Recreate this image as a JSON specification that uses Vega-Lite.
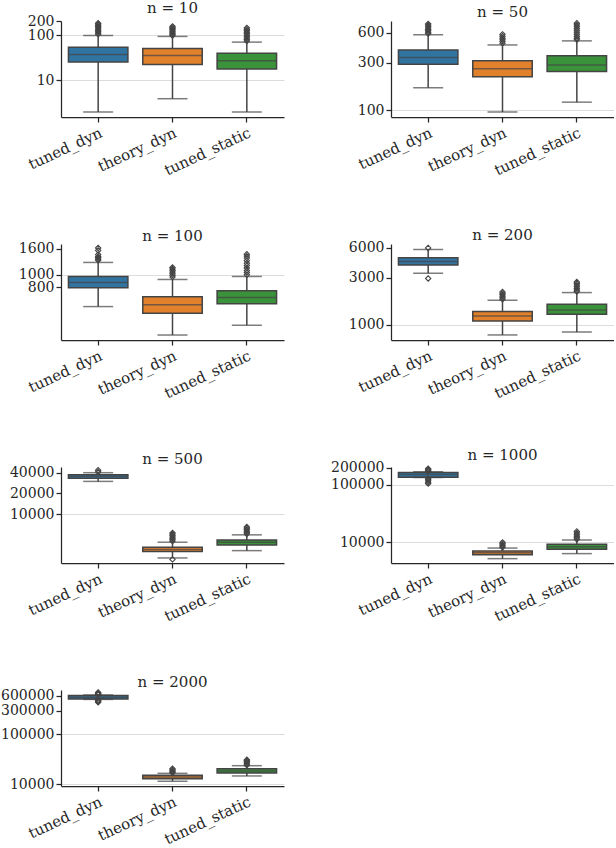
{
  "$schema": "https://vega.github.io/schema/vega-lite/v6.json",
  "padding": {"left": 0, "top": 1, "right": 0, "bottom": 0},
  "bounds": "flush",
  "spacing": 223,
  "background": "white",
  "datasets": {
    "stats": [
      {"n": 10, "method": "tuned_dyn", "lower": 2.0, "q1": 25.3, "median": 37.5, "q3": 54, "upper": 98},
      {"n": 10, "method": "theory_dyn", "lower": 3.93, "q1": 22.5, "median": 35.6, "q3": 50.8, "upper": 93.5},
      {"n": 10, "method": "tuned_static", "lower": 2.0, "q1": 17.8, "median": 27.1, "q3": 39.5, "upper": 70},
      {"n": 50, "method": "tuned_dyn", "lower": 168, "q1": 290, "median": 339, "q3": 403, "upper": 573},
      {"n": 50, "method": "theory_dyn", "lower": 95.5, "q1": 216, "median": 261, "q3": 314, "upper": 453},
      {"n": 50, "method": "tuned_static", "lower": 120, "q1": 245, "median": 284, "q3": 353, "upper": 498},
      {"n": 100, "method": "tuned_dyn", "lower": 564, "q1": 791, "median": 870, "q3": 970, "upper": 1249},
      {"n": 100, "method": "theory_dyn", "lower": 338, "q1": 501, "median": 582, "q3": 672, "upper": 919},
      {"n": 100, "method": "tuned_static", "lower": 403, "q1": 593, "median": 664, "q3": 750, "upper": 970},
      {"n": 200, "method": "tuned_dyn", "lower": 3330, "q1": 4040, "median": 4390, "q3": 4790, "upper": 5800},
      {"n": 200, "method": "theory_dyn", "lower": 793, "q1": 1098, "median": 1233, "q3": 1365, "upper": 1778},
      {"n": 200, "method": "tuned_static", "lower": 849, "q1": 1284, "median": 1420, "q3": 1622, "upper": 2125},
      {"n": 500, "method": "tuned_dyn", "lower": 29900, "q1": 33100, "median": 35500, "q3": 37400, "upper": 40000},
      {"n": 500, "method": "theory_dyn", "lower": 2310, "q1": 2860, "median": 3060, "q3": 3300, "upper": 3910},
      {"n": 500, "method": "tuned_static", "lower": 2950, "q1": 3560, "median": 3890, "q3": 4220, "upper": 5000},
      {"n": 1000, "method": "tuned_dyn", "lower": 134000, "q1": 136000, "median": 152000, "q3": 164000, "upper": 169000},
      {"n": 1000, "method": "theory_dyn", "lower": 5190, "q1": 6100, "median": 6560, "q3": 7050, "upper": 7940},
      {"n": 1000, "method": "tuned_static", "lower": 6350, "q1": 7550, "median": 8330, "q3": 9230, "upper": 10970},
      {"n": 2000, "method": "tuned_dyn", "lower": 502000, "q1": 512000, "median": 556000, "q3": 604000, "upper": 615000},
      {"n": 2000, "method": "theory_dyn", "lower": 11500, "q1": 12900, "median": 14000, "q3": 15100, "upper": 16600},
      {"n": 2000, "method": "tuned_static", "lower": 14700, "q1": 16800, "median": 18500, "q3": 20500, "upper": 23600}
    ],
    "outliers": [
      {"n": 10, "method": "tuned_dyn", "value": 105}, {"n": 10, "method": "tuned_dyn", "value": 112}, {"n": 10, "method": "tuned_dyn", "value": 120}, {"n": 10, "method": "tuned_dyn", "value": 128}, {"n": 10, "method": "tuned_dyn", "value": 136}, {"n": 10, "method": "tuned_dyn", "value": 145}, {"n": 10, "method": "tuned_dyn", "value": 155}, {"n": 10, "method": "tuned_dyn", "value": 165}, {"n": 10, "method": "tuned_dyn", "value": 175}, {"n": 10, "method": "tuned_dyn", "value": 183},
      {"n": 10, "method": "theory_dyn", "value": 98}, {"n": 10, "method": "theory_dyn", "value": 104}, {"n": 10, "method": "theory_dyn", "value": 110}, {"n": 10, "method": "theory_dyn", "value": 117}, {"n": 10, "method": "theory_dyn", "value": 124}, {"n": 10, "method": "theory_dyn", "value": 132}, {"n": 10, "method": "theory_dyn", "value": 140}, {"n": 10, "method": "theory_dyn", "value": 148}, {"n": 10, "method": "theory_dyn", "value": 156},
      {"n": 10, "method": "tuned_static", "value": 74}, {"n": 10, "method": "tuned_static", "value": 80}, {"n": 10, "method": "tuned_static", "value": 86}, {"n": 10, "method": "tuned_static", "value": 93}, {"n": 10, "method": "tuned_static", "value": 100}, {"n": 10, "method": "tuned_static", "value": 108}, {"n": 10, "method": "tuned_static", "value": 116}, {"n": 10, "method": "tuned_static", "value": 125}, {"n": 10, "method": "tuned_static", "value": 135}, {"n": 10, "method": "tuned_static", "value": 145},
      {"n": 50, "method": "tuned_dyn", "value": 590}, {"n": 50, "method": "tuned_dyn", "value": 610}, {"n": 50, "method": "tuned_dyn", "value": 630}, {"n": 50, "method": "tuned_dyn", "value": 650}, {"n": 50, "method": "tuned_dyn", "value": 670}, {"n": 50, "method": "tuned_dyn", "value": 695}, {"n": 50, "method": "tuned_dyn", "value": 720}, {"n": 50, "method": "tuned_dyn", "value": 740},
      {"n": 50, "method": "theory_dyn", "value": 470}, {"n": 50, "method": "theory_dyn", "value": 490}, {"n": 50, "method": "theory_dyn", "value": 510}, {"n": 50, "method": "theory_dyn", "value": 530}, {"n": 50, "method": "theory_dyn", "value": 555}, {"n": 50, "method": "theory_dyn", "value": 580},
      {"n": 50, "method": "tuned_static", "value": 510}, {"n": 50, "method": "tuned_static", "value": 530}, {"n": 50, "method": "tuned_static", "value": 550}, {"n": 50, "method": "tuned_static", "value": 575}, {"n": 50, "method": "tuned_static", "value": 600}, {"n": 50, "method": "tuned_static", "value": 630}, {"n": 50, "method": "tuned_static", "value": 660}, {"n": 50, "method": "tuned_static", "value": 690}, {"n": 50, "method": "tuned_static", "value": 720}, {"n": 50, "method": "tuned_static", "value": 750},
      {"n": 100, "method": "tuned_dyn", "value": 1300}, {"n": 100, "method": "tuned_dyn", "value": 1330}, {"n": 100, "method": "tuned_dyn", "value": 1360}, {"n": 100, "method": "tuned_dyn", "value": 1390}, {"n": 100, "method": "tuned_dyn", "value": 1440}, {"n": 100, "method": "tuned_dyn", "value": 1550}, {"n": 100, "method": "tuned_dyn", "value": 1620},
      {"n": 100, "method": "theory_dyn", "value": 960}, {"n": 100, "method": "theory_dyn", "value": 990}, {"n": 100, "method": "theory_dyn", "value": 1020}, {"n": 100, "method": "theory_dyn", "value": 1050}, {"n": 100, "method": "theory_dyn", "value": 1080}, {"n": 100, "method": "theory_dyn", "value": 1110}, {"n": 100, "method": "theory_dyn", "value": 1140},
      {"n": 100, "method": "tuned_static", "value": 1000}, {"n": 100, "method": "tuned_static", "value": 1040}, {"n": 100, "method": "tuned_static", "value": 1080}, {"n": 100, "method": "tuned_static", "value": 1130}, {"n": 100, "method": "tuned_static", "value": 1180}, {"n": 100, "method": "tuned_static", "value": 1230}, {"n": 100, "method": "tuned_static", "value": 1290}, {"n": 100, "method": "tuned_static", "value": 1350}, {"n": 100, "method": "tuned_static", "value": 1400}, {"n": 100, "method": "tuned_static", "value": 1450},
      {"n": 200, "method": "tuned_dyn", "value": 6000}, {"n": 200, "method": "tuned_dyn", "value": 2950},
      {"n": 200, "method": "theory_dyn", "value": 1820}, {"n": 200, "method": "theory_dyn", "value": 1880}, {"n": 200, "method": "theory_dyn", "value": 1950}, {"n": 200, "method": "theory_dyn", "value": 2020}, {"n": 200, "method": "theory_dyn", "value": 2090}, {"n": 200, "method": "theory_dyn", "value": 2160},
      {"n": 200, "method": "tuned_static", "value": 2180}, {"n": 200, "method": "tuned_static", "value": 2260}, {"n": 200, "method": "tuned_static", "value": 2340}, {"n": 200, "method": "tuned_static", "value": 2430}, {"n": 200, "method": "tuned_static", "value": 2530}, {"n": 200, "method": "tuned_static", "value": 2630}, {"n": 200, "method": "tuned_static", "value": 2720},
      {"n": 500, "method": "tuned_dyn", "value": 41000}, {"n": 500, "method": "tuned_dyn", "value": 43500},
      {"n": 500, "method": "theory_dyn", "value": 4050}, {"n": 500, "method": "theory_dyn", "value": 4250}, {"n": 500, "method": "theory_dyn", "value": 4450}, {"n": 500, "method": "theory_dyn", "value": 4650}, {"n": 500, "method": "theory_dyn", "value": 4900}, {"n": 500, "method": "theory_dyn", "value": 5150}, {"n": 500, "method": "theory_dyn", "value": 5350}, {"n": 500, "method": "theory_dyn", "value": 2200},
      {"n": 500, "method": "tuned_static", "value": 5150}, {"n": 500, "method": "tuned_static", "value": 5400}, {"n": 500, "method": "tuned_static", "value": 5650}, {"n": 500, "method": "tuned_static", "value": 5950}, {"n": 500, "method": "tuned_static", "value": 6250}, {"n": 500, "method": "tuned_static", "value": 6500},
      {"n": 1000, "method": "tuned_dyn", "value": 172000}, {"n": 1000, "method": "tuned_dyn", "value": 178000}, {"n": 1000, "method": "tuned_dyn", "value": 185000}, {"n": 1000, "method": "tuned_dyn", "value": 192000}, {"n": 1000, "method": "tuned_dyn", "value": 130000}, {"n": 1000, "method": "tuned_dyn", "value": 124000}, {"n": 1000, "method": "tuned_dyn", "value": 118000}, {"n": 1000, "method": "tuned_dyn", "value": 111000}, {"n": 1000, "method": "tuned_dyn", "value": 105000},
      {"n": 1000, "method": "theory_dyn", "value": 8200}, {"n": 1000, "method": "theory_dyn", "value": 8600}, {"n": 1000, "method": "theory_dyn", "value": 9000}, {"n": 1000, "method": "theory_dyn", "value": 9500}, {"n": 1000, "method": "theory_dyn", "value": 10000},
      {"n": 1000, "method": "tuned_static", "value": 11300}, {"n": 1000, "method": "tuned_static", "value": 12000}, {"n": 1000, "method": "tuned_static", "value": 12800}, {"n": 1000, "method": "tuned_static", "value": 13600}, {"n": 1000, "method": "tuned_static", "value": 14500}, {"n": 1000, "method": "tuned_static", "value": 15500},
      {"n": 2000, "method": "tuned_dyn", "value": 630000}, {"n": 2000, "method": "tuned_dyn", "value": 650000}, {"n": 2000, "method": "tuned_dyn", "value": 670000}, {"n": 2000, "method": "tuned_dyn", "value": 690000}, {"n": 2000, "method": "tuned_dyn", "value": 490000}, {"n": 2000, "method": "tuned_dyn", "value": 470000}, {"n": 2000, "method": "tuned_dyn", "value": 450000}, {"n": 2000, "method": "tuned_dyn", "value": 440000},
      {"n": 2000, "method": "theory_dyn", "value": 17100}, {"n": 2000, "method": "theory_dyn", "value": 17800}, {"n": 2000, "method": "theory_dyn", "value": 18600}, {"n": 2000, "method": "theory_dyn", "value": 19500}, {"n": 2000, "method": "theory_dyn", "value": 20500},
      {"n": 2000, "method": "tuned_static", "value": 24200}, {"n": 2000, "method": "tuned_static", "value": 25500}, {"n": 2000, "method": "tuned_static", "value": 27000}, {"n": 2000, "method": "tuned_static", "value": 28500}, {"n": 2000, "method": "tuned_static", "value": 30000}, {"n": 2000, "method": "tuned_static", "value": 31000}
    ]
  },
  "config": {
    "view": {"stroke": null},
    "font": "DejaVu Serif",
    "axis": {"labelFont": "DejaVu Serif", "labelFontSize": 14, "labelColor": "#262626", "domainColor": "#262626", "tickColor": "#262626", "domainWidth": 1.25, "tickWidth": 1.25, "tickSize": 5, "labelPadding": 2, "gridColor": "#dcdcdc", "gridWidth": 1, "labelOverlap": false},
    "axisX": {"grid": false, "labelAngle": -25, "labelFontSize": 15, "labelPadding": 3},
    "title": {"font": "DejaVu Serif", "fontSize": 15, "fontWeight": "normal", "color": "#262626", "offset": -2, "anchor": "middle"}
  },
  "vconcat": [
    {"bounds": "flush", "spacing": 107, "hconcat": [
      {"title": "n = 10", "width": 223, "height": 96,
       "encoding": {"x": {"field": "method", "type": "nominal", "title": null, "scale": {"domain": ["tuned_dyn", "theory_dyn", "tuned_static"], "paddingInner": 0, "paddingOuter": 0}}},
       "layer": [
        {"data": {"name": "stats"}, "transform": [{"filter": "datum.n == 10"}], "mark": {"type": "rule", "color": "#444444", "strokeWidth": 1.5},
         "encoding": {"y": {"field": "lower", "type": "quantitative", "title": null, "scale": {"type": "log", "domain": [1.55, 205], "nice": false}, "axis": {"values": [10, 100, 200], "format": "d", "gridOpacity": {"condition": {"test": "indexof([10,100,1000,10000,100000,1000000], datum.value) >= 0", "value": 1}, "value": 0}}}, "y2": {"field": "upper"}}},
        {"data": {"name": "stats"}, "transform": [{"filter": "datum.n == 10"}], "mark": {"type": "bar", "width": {"band": 0.8}, "stroke": "#444444", "strokeWidth": 1.5},
         "encoding": {"y": {"field": "q1", "type": "quantitative", "title": null}, "y2": {"field": "q3"}, "color": {"field": "method", "type": "nominal", "legend": null, "scale": {"domain": ["tuned_dyn", "theory_dyn", "tuned_static"], "range": ["#3274a1", "#e1812c", "#3a923a"]}}}},
        {"data": {"name": "stats"}, "transform": [{"filter": "datum.n == 10"}], "mark": {"type": "tick", "size": 59, "thickness": 1.5, "color": "#444444"}, "encoding": {"y": {"field": "median", "type": "quantitative", "title": null}}},
        {"data": {"name": "stats"}, "transform": [{"filter": "datum.n == 10"}], "mark": {"type": "tick", "size": 30, "thickness": 1.5, "color": "#444444"}, "encoding": {"y": {"field": "lower", "type": "quantitative", "title": null}}},
        {"data": {"name": "stats"}, "transform": [{"filter": "datum.n == 10"}], "mark": {"type": "tick", "size": 30, "thickness": 1.5, "color": "#444444"}, "encoding": {"y": {"field": "upper", "type": "quantitative", "title": null}}},
        {"data": {"name": "outliers"}, "transform": [{"filter": "datum.n == 10"}], "mark": {"type": "point", "shape": "diamond", "filled": false, "size": 28, "strokeWidth": 1.1, "color": "#444444", "opacity": 1}, "encoding": {"y": {"field": "value", "type": "quantitative", "title": null}}}
       ]},
      {"title": "n = 50", "width": 223, "height": 96,
       "encoding": {"x": {"field": "method", "type": "nominal", "title": null, "scale": {"domain": ["tuned_dyn", "theory_dyn", "tuned_static"], "paddingInner": 0, "paddingOuter": 0}}},
       "layer": [
        {"data": {"name": "stats"}, "transform": [{"filter": "datum.n == 50"}], "mark": {"type": "rule", "color": "#444444", "strokeWidth": 1.5},
         "encoding": {"y": {"field": "lower", "type": "quantitative", "title": null, "scale": {"type": "log", "domain": [85, 790], "nice": false}, "axis": {"values": [100, 300, 600], "format": "d", "gridOpacity": {"condition": {"test": "indexof([10,100,1000,10000,100000,1000000], datum.value) >= 0", "value": 1}, "value": 0}}}, "y2": {"field": "upper"}}},
        {"data": {"name": "stats"}, "transform": [{"filter": "datum.n == 50"}], "mark": {"type": "bar", "width": {"band": 0.8}, "stroke": "#444444", "strokeWidth": 1.5},
         "encoding": {"y": {"field": "q1", "type": "quantitative", "title": null}, "y2": {"field": "q3"}, "color": {"field": "method", "type": "nominal", "legend": null, "scale": {"domain": ["tuned_dyn", "theory_dyn", "tuned_static"], "range": ["#3274a1", "#e1812c", "#3a923a"]}}}},
        {"data": {"name": "stats"}, "transform": [{"filter": "datum.n == 50"}], "mark": {"type": "tick", "size": 59, "thickness": 1.5, "color": "#444444"}, "encoding": {"y": {"field": "median", "type": "quantitative", "title": null}}},
        {"data": {"name": "stats"}, "transform": [{"filter": "datum.n == 50"}], "mark": {"type": "tick", "size": 30, "thickness": 1.5, "color": "#444444"}, "encoding": {"y": {"field": "lower", "type": "quantitative", "title": null}}},
        {"data": {"name": "stats"}, "transform": [{"filter": "datum.n == 50"}], "mark": {"type": "tick", "size": 30, "thickness": 1.5, "color": "#444444"}, "encoding": {"y": {"field": "upper", "type": "quantitative", "title": null}}},
        {"data": {"name": "outliers"}, "transform": [{"filter": "datum.n == 50"}], "mark": {"type": "point", "shape": "diamond", "filled": false, "size": 28, "strokeWidth": 1.1, "color": "#444444", "opacity": 1}, "encoding": {"y": {"field": "value", "type": "quantitative", "title": null}}}
       ]}
    ]},
    {"bounds": "flush", "spacing": 107, "hconcat": [
      {"title": "n = 100", "width": 223, "height": 96,
       "encoding": {"x": {"field": "method", "type": "nominal", "title": null, "scale": {"domain": ["tuned_dyn", "theory_dyn", "tuned_static"], "paddingInner": 0, "paddingOuter": 0}}},
       "layer": [
        {"data": {"name": "stats"}, "transform": [{"filter": "datum.n == 100"}], "mark": {"type": "rule", "color": "#444444", "strokeWidth": 1.5},
         "encoding": {"y": {"field": "lower", "type": "quantitative", "title": null, "scale": {"type": "log", "domain": [309, 1741], "nice": false}, "axis": {"values": [800, 1000, 1600], "format": "d", "gridOpacity": {"condition": {"test": "indexof([10,100,1000,10000,100000,1000000], datum.value) >= 0", "value": 1}, "value": 0}}}, "y2": {"field": "upper"}}},
        {"data": {"name": "stats"}, "transform": [{"filter": "datum.n == 100"}], "mark": {"type": "bar", "width": {"band": 0.8}, "stroke": "#444444", "strokeWidth": 1.5},
         "encoding": {"y": {"field": "q1", "type": "quantitative", "title": null}, "y2": {"field": "q3"}, "color": {"field": "method", "type": "nominal", "legend": null, "scale": {"domain": ["tuned_dyn", "theory_dyn", "tuned_static"], "range": ["#3274a1", "#e1812c", "#3a923a"]}}}},
        {"data": {"name": "stats"}, "transform": [{"filter": "datum.n == 100"}], "mark": {"type": "tick", "size": 59, "thickness": 1.5, "color": "#444444"}, "encoding": {"y": {"field": "median", "type": "quantitative", "title": null}}},
        {"data": {"name": "stats"}, "transform": [{"filter": "datum.n == 100"}], "mark": {"type": "tick", "size": 30, "thickness": 1.5, "color": "#444444"}, "encoding": {"y": {"field": "lower", "type": "quantitative", "title": null}}},
        {"data": {"name": "stats"}, "transform": [{"filter": "datum.n == 100"}], "mark": {"type": "tick", "size": 30, "thickness": 1.5, "color": "#444444"}, "encoding": {"y": {"field": "upper", "type": "quantitative", "title": null}}},
        {"data": {"name": "outliers"}, "transform": [{"filter": "datum.n == 100"}], "mark": {"type": "point", "shape": "diamond", "filled": false, "size": 28, "strokeWidth": 1.1, "color": "#444444", "opacity": 1}, "encoding": {"y": {"field": "value", "type": "quantitative", "title": null}}}
       ]},
      {"title": "n = 200", "width": 223, "height": 96,
       "encoding": {"x": {"field": "method", "type": "nominal", "title": null, "scale": {"domain": ["tuned_dyn", "theory_dyn", "tuned_static"], "paddingInner": 0, "paddingOuter": 0}}},
       "layer": [
        {"data": {"name": "stats"}, "transform": [{"filter": "datum.n == 200"}], "mark": {"type": "rule", "color": "#444444", "strokeWidth": 1.5},
         "encoding": {"y": {"field": "lower", "type": "quantitative", "title": null, "scale": {"type": "log", "domain": [705, 6580], "nice": false}, "axis": {"values": [1000, 3000, 6000], "format": "d", "gridOpacity": {"condition": {"test": "indexof([10,100,1000,10000,100000,1000000], datum.value) >= 0", "value": 1}, "value": 0}}}, "y2": {"field": "upper"}}},
        {"data": {"name": "stats"}, "transform": [{"filter": "datum.n == 200"}], "mark": {"type": "bar", "width": {"band": 0.8}, "stroke": "#444444", "strokeWidth": 1.5},
         "encoding": {"y": {"field": "q1", "type": "quantitative", "title": null}, "y2": {"field": "q3"}, "color": {"field": "method", "type": "nominal", "legend": null, "scale": {"domain": ["tuned_dyn", "theory_dyn", "tuned_static"], "range": ["#3274a1", "#e1812c", "#3a923a"]}}}},
        {"data": {"name": "stats"}, "transform": [{"filter": "datum.n == 200"}], "mark": {"type": "tick", "size": 59, "thickness": 1.5, "color": "#444444"}, "encoding": {"y": {"field": "median", "type": "quantitative", "title": null}}},
        {"data": {"name": "stats"}, "transform": [{"filter": "datum.n == 200"}], "mark": {"type": "tick", "size": 30, "thickness": 1.5, "color": "#444444"}, "encoding": {"y": {"field": "lower", "type": "quantitative", "title": null}}},
        {"data": {"name": "stats"}, "transform": [{"filter": "datum.n == 200"}], "mark": {"type": "tick", "size": 30, "thickness": 1.5, "color": "#444444"}, "encoding": {"y": {"field": "upper", "type": "quantitative", "title": null}}},
        {"data": {"name": "outliers"}, "transform": [{"filter": "datum.n == 200"}], "mark": {"type": "point", "shape": "diamond", "filled": false, "size": 28, "strokeWidth": 1.1, "color": "#444444", "opacity": 1}, "encoding": {"y": {"field": "value", "type": "quantitative", "title": null}}}
       ]}
    ]},
    {"bounds": "flush", "spacing": 107, "hconcat": [
      {"title": "n = 500", "width": 223, "height": 96,
       "encoding": {"x": {"field": "method", "type": "nominal", "title": null, "scale": {"domain": ["tuned_dyn", "theory_dyn", "tuned_static"], "paddingInner": 0, "paddingOuter": 0}}},
       "layer": [
        {"data": {"name": "stats"}, "transform": [{"filter": "datum.n == 500"}], "mark": {"type": "rule", "color": "#444444", "strokeWidth": 1.5},
         "encoding": {"y": {"field": "lower", "type": "quantitative", "title": null, "scale": {"type": "log", "domain": [1950, 48400], "nice": false}, "axis": {"values": [10000, 20000, 40000], "format": "d", "gridOpacity": {"condition": {"test": "indexof([10,100,1000,10000,100000,1000000], datum.value) >= 0", "value": 1}, "value": 0}}}, "y2": {"field": "upper"}}},
        {"data": {"name": "stats"}, "transform": [{"filter": "datum.n == 500"}], "mark": {"type": "bar", "width": {"band": 0.8}, "stroke": "#444444", "strokeWidth": 1.5},
         "encoding": {"y": {"field": "q1", "type": "quantitative", "title": null}, "y2": {"field": "q3"}, "color": {"field": "method", "type": "nominal", "legend": null, "scale": {"domain": ["tuned_dyn", "theory_dyn", "tuned_static"], "range": ["#3274a1", "#e1812c", "#3a923a"]}}}},
        {"data": {"name": "stats"}, "transform": [{"filter": "datum.n == 500"}], "mark": {"type": "tick", "size": 59, "thickness": 1.5, "color": "#444444"}, "encoding": {"y": {"field": "median", "type": "quantitative", "title": null}}},
        {"data": {"name": "stats"}, "transform": [{"filter": "datum.n == 500"}], "mark": {"type": "tick", "size": 30, "thickness": 1.5, "color": "#444444"}, "encoding": {"y": {"field": "lower", "type": "quantitative", "title": null}}},
        {"data": {"name": "stats"}, "transform": [{"filter": "datum.n == 500"}], "mark": {"type": "tick", "size": 30, "thickness": 1.5, "color": "#444444"}, "encoding": {"y": {"field": "upper", "type": "quantitative", "title": null}}},
        {"data": {"name": "outliers"}, "transform": [{"filter": "datum.n == 500"}], "mark": {"type": "point", "shape": "diamond", "filled": false, "size": 28, "strokeWidth": 1.1, "color": "#444444", "opacity": 1}, "encoding": {"y": {"field": "value", "type": "quantitative", "title": null}}}
       ]},
      {"title": "n = 1000", "width": 223, "height": 96,
       "encoding": {"x": {"field": "method", "type": "nominal", "title": null, "scale": {"domain": ["tuned_dyn", "theory_dyn", "tuned_static"], "paddingInner": 0, "paddingOuter": 0}}},
       "layer": [
        {"data": {"name": "stats"}, "transform": [{"filter": "datum.n == 1000"}], "mark": {"type": "rule", "color": "#444444", "strokeWidth": 1.5},
         "encoding": {"y": {"field": "lower", "type": "quantitative", "title": null, "scale": {"type": "log", "domain": [4360, 205000], "nice": false}, "axis": {"values": [10000, 100000, 200000], "format": "d", "gridOpacity": {"condition": {"test": "indexof([10,100,1000,10000,100000,1000000], datum.value) >= 0", "value": 1}, "value": 0}}}, "y2": {"field": "upper"}}},
        {"data": {"name": "stats"}, "transform": [{"filter": "datum.n == 1000"}], "mark": {"type": "bar", "width": {"band": 0.8}, "stroke": "#444444", "strokeWidth": 1.5},
         "encoding": {"y": {"field": "q1", "type": "quantitative", "title": null}, "y2": {"field": "q3"}, "color": {"field": "method", "type": "nominal", "legend": null, "scale": {"domain": ["tuned_dyn", "theory_dyn", "tuned_static"], "range": ["#3274a1", "#e1812c", "#3a923a"]}}}},
        {"data": {"name": "stats"}, "transform": [{"filter": "datum.n == 1000"}], "mark": {"type": "tick", "size": 59, "thickness": 1.5, "color": "#444444"}, "encoding": {"y": {"field": "median", "type": "quantitative", "title": null}}},
        {"data": {"name": "stats"}, "transform": [{"filter": "datum.n == 1000"}], "mark": {"type": "tick", "size": 30, "thickness": 1.5, "color": "#444444"}, "encoding": {"y": {"field": "lower", "type": "quantitative", "title": null}}},
        {"data": {"name": "stats"}, "transform": [{"filter": "datum.n == 1000"}], "mark": {"type": "tick", "size": 30, "thickness": 1.5, "color": "#444444"}, "encoding": {"y": {"field": "upper", "type": "quantitative", "title": null}}},
        {"data": {"name": "outliers"}, "transform": [{"filter": "datum.n == 1000"}], "mark": {"type": "point", "shape": "diamond", "filled": false, "size": 28, "strokeWidth": 1.1, "color": "#444444", "opacity": 1}, "encoding": {"y": {"field": "value", "type": "quantitative", "title": null}}}
       ]}
    ]},
    {"bounds": "flush", "spacing": 107, "hconcat": [
      {"title": "n = 2000", "width": 223, "height": 96,
       "encoding": {"x": {"field": "method", "type": "nominal", "title": null, "scale": {"domain": ["tuned_dyn", "theory_dyn", "tuned_static"], "paddingInner": 0, "paddingOuter": 0}}},
       "layer": [
        {"data": {"name": "stats"}, "transform": [{"filter": "datum.n == 2000"}], "mark": {"type": "rule", "color": "#444444", "strokeWidth": 1.5},
         "encoding": {"y": {"field": "lower", "type": "quantitative", "title": null, "scale": {"type": "log", "domain": [9250, 774000], "nice": false}, "axis": {"values": [10000, 100000, 300000, 600000], "format": "d", "gridOpacity": {"condition": {"test": "indexof([10,100,1000,10000,100000,1000000], datum.value) >= 0", "value": 1}, "value": 0}}}, "y2": {"field": "upper"}}},
        {"data": {"name": "stats"}, "transform": [{"filter": "datum.n == 2000"}], "mark": {"type": "bar", "width": {"band": 0.8}, "stroke": "#444444", "strokeWidth": 1.5},
         "encoding": {"y": {"field": "q1", "type": "quantitative", "title": null}, "y2": {"field": "q3"}, "color": {"field": "method", "type": "nominal", "legend": null, "scale": {"domain": ["tuned_dyn", "theory_dyn", "tuned_static"], "range": ["#3274a1", "#e1812c", "#3a923a"]}}}},
        {"data": {"name": "stats"}, "transform": [{"filter": "datum.n == 2000"}], "mark": {"type": "tick", "size": 59, "thickness": 1.5, "color": "#444444"}, "encoding": {"y": {"field": "median", "type": "quantitative", "title": null}}},
        {"data": {"name": "stats"}, "transform": [{"filter": "datum.n == 2000"}], "mark": {"type": "tick", "size": 30, "thickness": 1.5, "color": "#444444"}, "encoding": {"y": {"field": "lower", "type": "quantitative", "title": null}}},
        {"data": {"name": "stats"}, "transform": [{"filter": "datum.n == 2000"}], "mark": {"type": "tick", "size": 30, "thickness": 1.5, "color": "#444444"}, "encoding": {"y": {"field": "upper", "type": "quantitative", "title": null}}},
        {"data": {"name": "outliers"}, "transform": [{"filter": "datum.n == 2000"}], "mark": {"type": "point", "shape": "diamond", "filled": false, "size": 28, "strokeWidth": 1.1, "color": "#444444", "opacity": 1}, "encoding": {"y": {"field": "value", "type": "quantitative", "title": null}}}
       ]}
    ]}
  ]
}
